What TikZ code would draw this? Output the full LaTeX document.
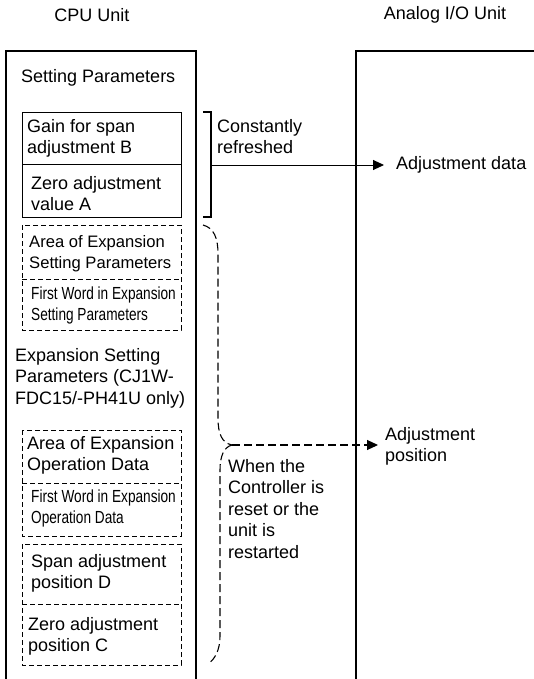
\documentclass[tikz,border=0pt]{standalone}
\usepackage{fontspec}
\setmainfont{Liberation Sans}
\newfontfamily\narrowfont[FakeStretch=0.78]{Liberation Sans}
\usetikzlibrary{arrows.meta}

\tikzset{
  unitline/.style={line width=1.3pt},
  solidbox/.style={line width=0.9pt},
  dashbox/.style={line width=0.9pt, dash pattern=on 5pt off 3pt},
  dashlink/.style={line width=1.1pt, dash pattern=on 8pt off 4pt},
  txt/.style={anchor=north west, inner sep=0pt, align=left,
    font=\fontsize{18}{21.5}\selectfont},
  narrowtxt/.style={anchor=north west, inner sep=0pt, align=left,
    font=\narrowfont\fontsize{17.5}{21}\selectfont},
}

\begin{document}
\begin{tikzpicture}[x=1pt, y=-1pt]
  \useasboundingbox (0,0) rectangle (534,679);

  % Unit titles
  \node[font=\fontsize{18}{21.5}\selectfont] (cpu) at (92,15) {CPU Unit};
  \node[font=\fontsize{18}{21.5}\selectfont] (aio) at (445,15) {Analog I/O Unit};

  % Unit frames
  \draw[unitline] (6,679) |- (196,51) -- (196,679);
  \draw[unitline] (356,679) |- (534,51);

  % Setting parameters
  \node[txt] (setpar) at (21,69) {Setting Parameters};
  \draw[solidbox] (22,112) rectangle (181,217);
  \draw[solidbox] (22,164) -- (181,164);
  \node[txt] (gain) at (27,119) {Gain for span\\adjustment B};
  \node[txt] (zero) at (31,176) {Zero adjustment\\value A};

  % Expansion boxes
  \foreach \top/\mid/\bot in {225/279/330, 430/483/536, 544/604/665} {
    \draw[dashbox] (22,\top) rectangle (181,\bot);
    \draw[dashbox] (22,\mid) -- (181,\mid);
  }
  \node[txt, font=\fontsize{16.6}{21}\selectfont] (areaset) at (29,235) {Area of Expansion\\Setting Parameters};
  \node[narrowtxt] (firstset) at (31,287) {First Word in Expansion\\Setting Parameters};
  \node[txt] (expset) at (15,348) {Expansion Setting\\Parameters (CJ1W-\\FDC15/-PH41U only)};
  \node[txt] (areaop) at (27,436) {Area of Expansion\\Operation Data};
  \node[narrowtxt] (firstop) at (31,490) {First Word in Expansion\\Operation Data};
  \node[txt] (spanpos) at (31,554) {Span adjustment\\position D};
  \node[txt] (zeropos) at (28,617) {Zero adjustment\\position C};

  % Constantly refreshed
  \draw[unitline] (203,112) -- (211,112) -- (211,217) -- (203,217);
  \coordinate (brk) at (211,165);
  \node[txt] (const) at (217,119) {Constantly\\refreshed};
  \node[txt, anchor=west] (adjdata) at (396,165) {Adjustment data};
  \draw[solidbox, -{Triangle[length=11pt,width=10pt]}, shorten >=12pt] (brk) -- (adjdata.west);

  % Reset / restart
  \draw[dashlink] (203,225) .. controls (214,228) and (218,238) .. (218,254)
    -- (218,418) .. controls (218,434) and (222,443) .. (232,445) coordinate (tip);
  \draw[dashlink] (tip) .. controls (224,447) and (220,456) .. (220,470)
    -- (220,636) .. controls (220,650) and (215,659) .. (208,664);
  \node[txt] (adjpos) at (385,427) {Adjustment\\position};
  \draw[dashlink, -{Triangle[length=11pt,width=10pt]}, shorten >=7pt] (tip) -- (tip -| adjpos.west);
  \node[txt] (when) at (228,459) {When the\\Controller is\\reset or the\\unit is\\restarted};

\end{tikzpicture}
\end{document}
